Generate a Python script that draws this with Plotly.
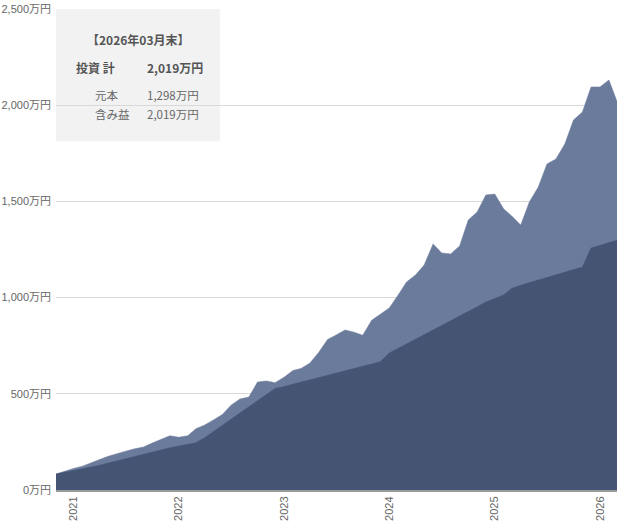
import plotly.graph_objects as go

# Month-start dates, 2020-11 .. 2026-03
months = (['2020-11-01', '2020-12-01']
          + ['%d-%02d-01' % (y, m) for y in range(2021, 2026) for m in range(1, 13)]
          + ['2026-01-01', '2026-02-01', '2026-03-01'])

# 評価額 (total value), 万円
total_value = [
    83, 99,
    112, 124, 142, 158, 175, 190, 202, 214, 224, 244, 262, 282,
    274, 282, 318, 338, 364, 392, 440, 473, 483, 561, 567, 558,
    586, 621, 632, 660, 715, 782, 806, 832, 820, 804, 882, 912,
    946, 1014, 1081, 1117, 1169, 1279, 1232, 1227, 1268, 1403, 1445, 1533,
    1538, 1461, 1424, 1377, 1497, 1575, 1694, 1720, 1798, 1923, 1965, 2095,
    2095, 2131, 2019,
]

# 元本 (principal), 万円
principal = [
    83, 92,
    100, 108, 118, 128, 140, 152, 163, 175, 186, 197, 208, 219,
    229, 238, 246, 272, 304, 336, 368, 400, 432, 464, 496, 528,
    538, 550, 562, 574, 585, 597, 609, 620, 632, 644, 656, 667,
    712, 736, 760, 784, 808, 832, 856, 880, 904, 928, 952, 977,
    995, 1014, 1048, 1064, 1078, 1091, 1105, 1118, 1132, 1145, 1159, 1258,
    1272, 1285, 1298,
]

year_ticks = ['2021-01-01', '2022-01-01', '2023-01-01', '2024-01-01', '2025-01-01', '2026-01-01']
year_labels = ['2021', '2022', '2023', '2024', '2025', '2026']
y_ticks = [0, 500, 1000, 1500, 2000, 2500]
y_labels = ['0万円', '500万円', '1,000万円', '1,500万円', '2,000万円', '2,500万円']

box_title = '【2026年03月末】'
box_rows = [('投資 計', '2,019万円'), ('元本', '1,298万円'), ('含み益', '2,019万円')]

total_color = '#6b7b9c'
principal_color = '#455473'
tick_font = dict(family='Liberation Sans, Noto Sans CJK JP', size=11, color='#666')
box_font = 'Noto Sans CJK JP'

fig = go.Figure()
fig.add_trace(go.Scatter(
    x=months, y=total_value, name='評価額',
    mode='lines', fill='tozeroy', fillcolor=total_color,
    line=dict(color=total_color, width=0.5)))
fig.add_trace(go.Scatter(
    x=months, y=principal, name='元本',
    mode='lines', fill='tozeroy', fillcolor=principal_color,
    line=dict(color=principal_color, width=0.5)))

# summary box behind the gridlines
fig.add_shape(type='rect', xref='paper', yref='paper',
              x0=0, x1=0.292, y0=0.725, y1=1.0,
              fillcolor='#f2f2f2', line_width=0, layer='below')

fig.add_annotation(text='<b>%s</b>' % box_title, xref='paper', yref='paper',
                   x=0, y=1, xanchor='center', yanchor='middle',
                   xshift=82, yshift=-30, showarrow=False,
                   font=dict(family=box_font, size=12, color='#555'))
row_y = [-58, -86, -105]
label_x = [18, 37, 37]
for i, (label, value) in enumerate(box_rows):
    bold = i == 0
    fmt = '<b>%s</b>' if bold else '%s'
    color = '#555' if bold else '#666'
    size = 12 if bold else 11.5
    fig.add_annotation(text=fmt % label, xref='paper', yref='paper',
                       x=0, y=1, xanchor='left', yanchor='middle',
                       xshift=label_x[i], yshift=row_y[i], showarrow=False,
                       font=dict(family=box_font, size=size, color=color))
    fig.add_annotation(text=fmt % value, xref='paper', yref='paper',
                       x=0, y=1, xanchor='left', yanchor='middle',
                       xshift=89, yshift=row_y[i], showarrow=False,
                       font=dict(family=box_font, size=size, color=color))

fig.update_layout(
    width=621, height=526,
    paper_bgcolor='white', plot_bgcolor='white',
    showlegend=False,
    margin=dict(l=56, r=4, t=9, b=36, autoexpand=False),
    xaxis=dict(type='date', range=[months[0], months[-1]],
               tickvals=year_ticks, ticktext=year_labels, tickangle=-90,
               showgrid=False, showline=True, linecolor='#999', linewidth=2,
               ticks='', tickfont=tick_font, zeroline=False),
    yaxis=dict(range=[0, 2500], tickvals=y_ticks, ticktext=y_labels,
               showgrid=True, gridcolor='#d9d9d9', gridwidth=1,
               zeroline=False, ticks='', tickfont=tick_font,
               ticklabelstandoff=4),
)

# drop the browser's default body margin so the chart sits at the page corner
fig.write_html("out.html", config={'displayModeBar': False},
               post_script="document.body.style.margin='0px';")
